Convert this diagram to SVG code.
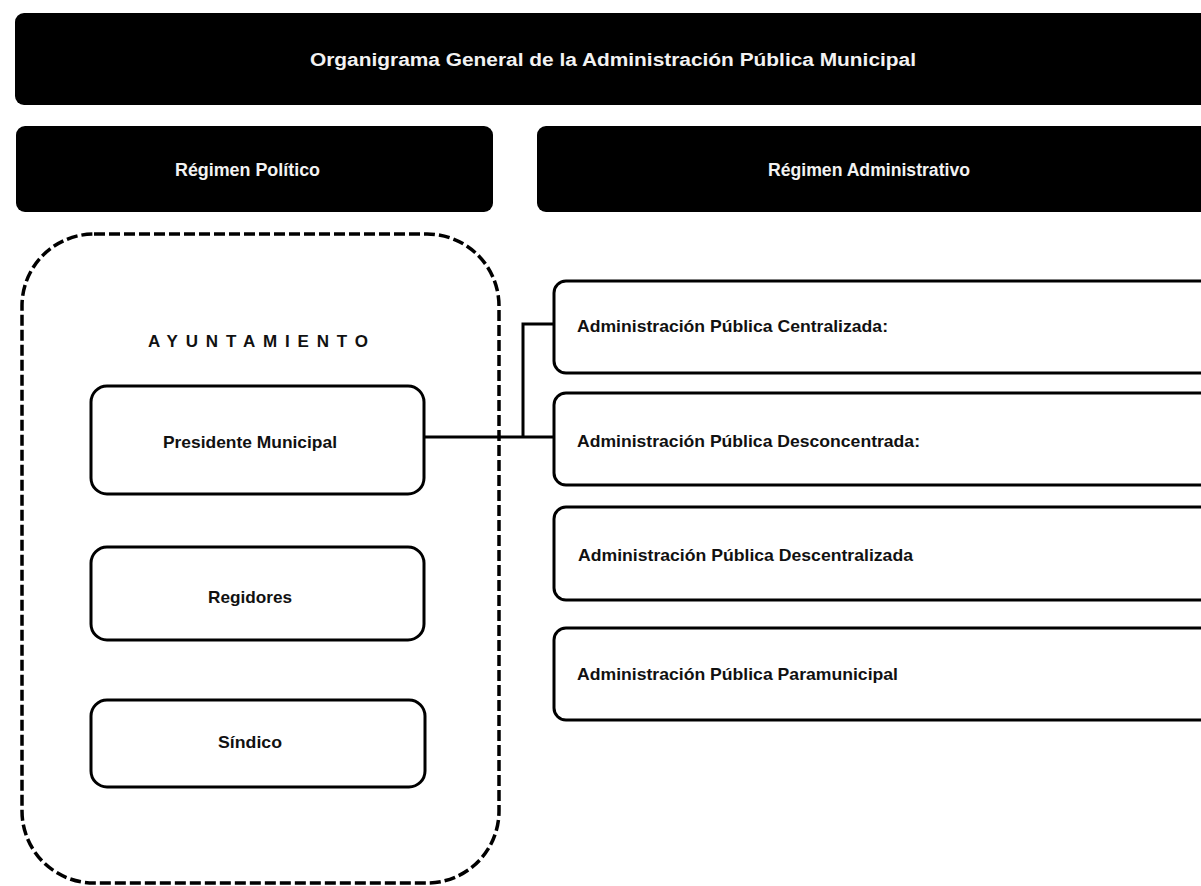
<svg xmlns="http://www.w3.org/2000/svg" width="1201" height="886" viewBox="0 0 1201 886">
<style>
.hdr{fill:#000}
.box{fill:#fff;stroke:#000;stroke-width:3}
.cont{fill:none;stroke:#000;stroke-width:3.5;stroke-dasharray:11 4}
.wt{fill:#f2f2f2;font-family:"Liberation Sans",Arial,sans-serif;font-weight:bold;font-size:18px}
.bt{fill:#111;font-family:"Liberation Sans",Arial,sans-serif;font-weight:bold;font-size:17px}
.conn{fill:none;stroke:#000;stroke-width:3}
</style>
<rect width="1201" height="886" fill="#fff"/>
<g id="title">
<rect class="hdr" x="15" y="13" width="1220" height="92" rx="9"/>
<text class="wt" x="310" y="66" textLength="606" lengthAdjust="spacingAndGlyphs" font-size="20">Organigrama General de la Administración Pública Municipal</text>
</g>
<g id="regimen-politico">
<rect class="hdr" x="16" y="126" width="477" height="86" rx="9"/>
<text class="wt" x="175" y="176" textLength="145" lengthAdjust="spacingAndGlyphs">Régimen Político</text>
</g>
<g id="regimen-administrativo">
<rect class="hdr" x="537" y="126" width="700" height="86" rx="9"/>
<text class="wt" x="768" y="176" textLength="202" lengthAdjust="spacingAndGlyphs">Régimen Administrativo</text>
</g>
<g id="ayuntamiento">
<rect class="cont" x="22" y="234" width="477" height="649" rx="72"/>
<text class="bt" x="148" y="347" textLength="220" lengthAdjust="spacing" font-size="16">AYUNTAMIENTO</text>
</g>
<g id="presidente">
<rect class="box" x="91" y="386" width="333" height="108" rx="16"/>
<text class="bt" x="163" y="448" textLength="174" lengthAdjust="spacingAndGlyphs">Presidente Municipal</text>
</g>
<g id="regidores">
<rect class="box" x="91" y="547" width="333" height="93" rx="16"/>
<text class="bt" x="208" y="603" textLength="84" lengthAdjust="spacingAndGlyphs">Regidores</text>
</g>
<g id="sindico">
<rect class="box" x="91" y="700" width="334" height="87" rx="16"/>
<text class="bt" x="218" y="748" textLength="64" lengthAdjust="spacingAndGlyphs">Síndico</text>
</g>
<g id="centralizada">
<rect class="box" x="554" y="281" width="700" height="92" rx="12"/>
<text class="bt" x="577" y="332" textLength="311" lengthAdjust="spacingAndGlyphs">Administración Pública Centralizada:</text>
</g>
<g id="desconcentrada">
<rect class="box" x="554" y="393" width="700" height="92" rx="12"/>
<text class="bt" x="577" y="447" textLength="343" lengthAdjust="spacingAndGlyphs">Administración Pública Desconcentrada:</text>
</g>
<g id="descentralizada">
<rect class="box" x="554" y="507" width="700" height="93" rx="12"/>
<text class="bt" x="578" y="561" textLength="335" lengthAdjust="spacingAndGlyphs">Administración Pública Descentralizada</text>
</g>
<g id="paramunicipal">
<rect class="box" x="554" y="628" width="700" height="92" rx="12"/>
<text class="bt" x="577" y="680" textLength="321" lengthAdjust="spacingAndGlyphs">Administración Pública Paramunicipal</text>
</g>
<g id="connectors">
<path class="conn" d="M424,437 H523 M523,437 V324 H554 M523,437 H554"/>
</g>
</svg>
